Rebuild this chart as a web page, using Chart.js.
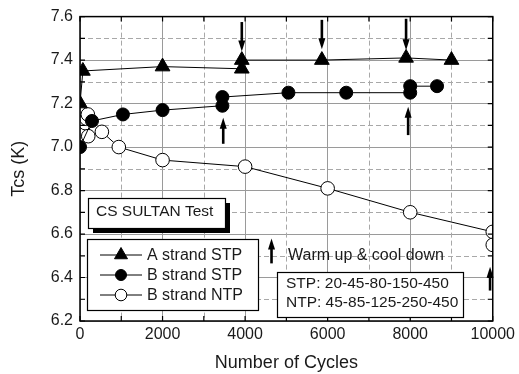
<!DOCTYPE html>
<html lang="en">
<head>
<meta charset="UTF-8" />
<title>Tcs vs number of cycles</title>
<script src="https://cdn.jsdelivr.net/npm/chart.js@4.4.1/dist/chart.umd.min.js"></script>
<style>
  html, body { margin: 0; padding: 0; background: #fff; }
  #wrap { width: 519px; height: 374px; }
</style>
</head>
<body>
<div id="wrap"><canvas id="chart"></canvas></div>
<script>
// Tcs (K) against number of cycles, one pair of arrays per strand
const aStpCycles = [0, 70, 2000, 3920, 3920, 5860, 7900, 9000];
const aStpTcs    = [7.20, 7.35, 7.37, 7.36, 7.40, 7.40, 7.41, 7.40];

const bStpCycles = [0, 290, 1040, 2000, 3450, 3450, 5050, 6450, 8000, 8000, 8650];
const bStpTcs    = [7.00, 7.12, 7.15, 7.17, 7.19, 7.23, 7.25, 7.25, 7.25, 7.28, 7.28];

const bNtpCycles = [130, 160, 190, 200, 530, 940, 2000, 4000, 6000, 8000, 10000, 10000];
const bNtpTcs    = [7.11, 7.13, 7.15, 7.05, 7.07, 7.00, 6.94, 6.91, 6.81, 6.70, 6.61, 6.55];

const seriesNames = ["A strand STP", "B strand STP", "B strand NTP"];

// dashed minor grid
const minorX = [1000, 3000, 5000, 7000, 9000];
const minorY = [6.3, 6.5, 6.7, 6.9, 7.1, 7.3, 7.5];

// warm up & cool down arrows: [cycles, tail Tcs, head Tcs]
const arrows = [
  [3920, 7.575, 7.44],
  [5860, 7.585, 7.45],
  [7900, 7.59, 7.445],
  [3470, 7.015, 7.135],
  [7950, 7.055, 7.185],
  [4640, 6.465, 6.58],
  [9935, 6.34, 6.45]
];

const stpText = ["STP: 20-45-80-150-450", "NTP: 45-85-125-250-450"];

const FONT = "'Liberation Sans', Arial, sans-serif";
const INK = "#1a1a1a";

function toPoints(xs, ys) {
  return xs.map((x, i) => ({ x: x, y: ys[i] }));
}

const styles = [
  { pointStyle: "triangle", pointRadius: 8.5, backgroundColor: "#000", pointBorderWidth: 1 },
  { pointStyle: "circle", pointRadius: 6.5, backgroundColor: "#000", pointBorderWidth: 1 },
  { pointStyle: "circle", pointRadius: 6.8, backgroundColor: "#fff", pointBorderWidth: 1 }
];

// minor grid, ticks on all four sides
const gridPlugin = {
  id: "minorGrid",
  beforeDatasetsDraw(chart) {
    const { ctx, chartArea: a, scales: { x, y } } = chart;
    ctx.save();
    ctx.strokeStyle = "#a8a8a8";
    ctx.lineWidth = 1;
    ctx.setLineDash([5, 3]);
    minorX.forEach(v => {
      const px = Math.round(x.getPixelForValue(v)) + 0.5;
      ctx.beginPath(); ctx.moveTo(px, a.top); ctx.lineTo(px, a.bottom); ctx.stroke();
    });
    minorY.forEach(v => {
      const py = Math.round(y.getPixelForValue(v)) + 0.5;
      ctx.beginPath(); ctx.moveTo(a.left, py); ctx.lineTo(a.right, py); ctx.stroke();
    });
    ctx.restore();
  },
  afterDatasetsDraw(chart) {
    const { ctx, chartArea: a, scales: { x, y } } = chart;
    ctx.save();
    ctx.strokeStyle = "#000";
    ctx.lineWidth = 1.2;
    const xs = x.ticks.map(t => t.value).concat(minorX);
    const ys = y.ticks.map(t => t.value).concat(minorY);
    ctx.beginPath();
    xs.forEach(v => {
      const px = x.getPixelForValue(v);
      ctx.moveTo(px, a.top); ctx.lineTo(px, a.top + 5);
      ctx.moveTo(px, a.bottom); ctx.lineTo(px, a.bottom - 5);
    });
    ys.forEach(v => {
      const py = y.getPixelForValue(v);
      ctx.moveTo(a.left, py); ctx.lineTo(a.left + 5, py);
      ctx.moveTo(a.right, py); ctx.lineTo(a.right - 5, py);
    });
    ctx.stroke();
    ctx.lineWidth = 1.5;
    ctx.strokeRect(a.left, a.top, a.right - a.left, a.bottom - a.top);
    ctx.restore();
  }
};

function drawArrow(ctx, px, y0, y1) {
  const dir = y1 > y0 ? 1 : -1;
  const headLen = 11, headHalf = 3.5;
  ctx.beginPath();
  ctx.lineWidth = 2.6;
  ctx.moveTo(px, y0);
  ctx.lineTo(px, y1 - dir * headLen + dir);
  ctx.stroke();
  ctx.beginPath();
  ctx.moveTo(px, y1);
  ctx.lineTo(px - headHalf, y1 - dir * headLen);
  ctx.lineTo(px + headHalf, y1 - dir * headLen);
  ctx.closePath();
  ctx.fill();
}

// boxes, legend, arrows and notes
const notesPlugin = {
  id: "notes",
  afterDraw(chart) {
    const { ctx, scales: { x, y } } = chart;
    ctx.save();
    ctx.fillStyle = "#000";
    ctx.strokeStyle = "#000";
    arrows.forEach(([c, t0, t1]) => {
      drawArrow(ctx, x.getPixelForValue(c), y.getPixelForValue(t0), y.getPixelForValue(t1));
    });

    ctx.textBaseline = "middle";
    ctx.textAlign = "left";

    // test name box with a drop shadow
    ctx.fillStyle = "#000";
    ctx.fillRect(93, 203, 137, 30);
    ctx.fillStyle = "#fff";
    ctx.fillRect(88, 198, 137, 30);
    ctx.lineWidth = 1.2;
    ctx.strokeRect(88.5, 198.5, 137, 30);
    ctx.fillStyle = INK;
    ctx.font = "15.5px " + FONT;
    ctx.fillText("CS SULTAN Test", 96, 212);

    // legend
    ctx.fillStyle = "#fff";
    ctx.fillRect(87, 239, 171, 71);
    ctx.lineWidth = 1.2;
    ctx.strokeRect(87.5, 239.5, 171, 71);
    chart.data.datasets.forEach((ds, i) => {
      const cy = 255 + i * 20;
      ctx.beginPath();
      ctx.lineWidth = 1;
      ctx.strokeStyle = "#000";
      ctx.moveTo(100, cy); ctx.lineTo(142, cy);
      ctx.stroke();
      const st = styles[i];
      ctx.fillStyle = st.backgroundColor;
      ctx.lineWidth = 1;
      Chart.helpers.drawPoint(ctx, { pointStyle: st.pointStyle, radius: st.pointRadius - 1, rotation: 0, borderWidth: 1 }, 121, cy);
      ctx.fillStyle = INK;
      ctx.font = "16px " + FONT;
      ctx.fillText(ds.label, 147, cy + 1);
    });

    // warm up note
    ctx.fillStyle = INK;
    ctx.font = "16px " + FONT;
    ctx.fillText("Warm up & cool down", 288, 256);

    // strain profile box
    ctx.fillStyle = "#fff";
    ctx.fillRect(277, 272, 186, 45);
    ctx.strokeStyle = "#000";
    ctx.lineWidth = 1.2;
    ctx.strokeRect(277.5, 272.5, 186, 45);
    ctx.fillStyle = INK;
    ctx.font = "15.5px " + FONT;
    ctx.fillText(stpText[0], 286, 284);
    ctx.fillText(stpText[1], 286, 303);
    ctx.restore();
  }
};

const ctx = document.getElementById("chart").getContext("2d");
const chart = new Chart(ctx, {
  type: "scatter",
  data: {
    datasets: [
      toPoints(aStpCycles, aStpTcs),
      toPoints(bStpCycles, bStpTcs),
      toPoints(bNtpCycles, bNtpTcs)
    ].map((pts, i) => ({
      label: seriesNames[i],
      data: pts,
      showLine: true,
      borderColor: "#000",
      borderWidth: 1,
      backgroundColor: styles[i].backgroundColor,
      pointStyle: styles[i].pointStyle,
      pointRadius: styles[i].pointRadius,
      pointBorderWidth: styles[i].pointBorderWidth,
      pointBorderColor: "#000",
      pointBackgroundColor: styles[i].backgroundColor,
      clip: 0
    }))
  },
  options: {
    responsive: true,
    maintainAspectRatio: false,
    animation: false,
    layout: { padding: { top: 16, right: 24, left: 0, bottom: 0 } },
    plugins: { legend: { display: false }, tooltip: { enabled: false } },
    scales: {
      x: {
        type: "linear",
        min: 0, max: 10000,
        ticks: { stepSize: 2000, color: INK, font: { family: FONT, size: 16 }, padding: 4, maxRotation: 0,
          callback: v => String(v) },
        grid: { color: "#9a9a9a", lineWidth: 1, drawTicks: false },
        border: { display: false },
        title: { display: true, text: "Number of Cycles", color: INK, font: { family: FONT, size: 18 }, padding: { top: 0, bottom: 0 } },
        afterFit(scale) { scale.height = 53; }
      },
      y: {
        type: "linear",
        min: 6.2, max: 7.6,
        ticks: { stepSize: 0.2, color: INK, font: { family: FONT, size: 16 }, padding: 7,
          callback: v => v.toFixed(1) },
        grid: { color: "#9a9a9a", lineWidth: 1, drawTicks: false },
        border: { display: false },
        title: { display: true, text: "Tcs (K)", color: INK, font: { family: FONT, size: 18 }, padding: { top: 8, bottom: 0 } },
        afterFit(scale) { scale.width = 80; }
      }
    }
  },
  plugins: [gridPlugin, notesPlugin]
});
</script>
</body>
</html>
